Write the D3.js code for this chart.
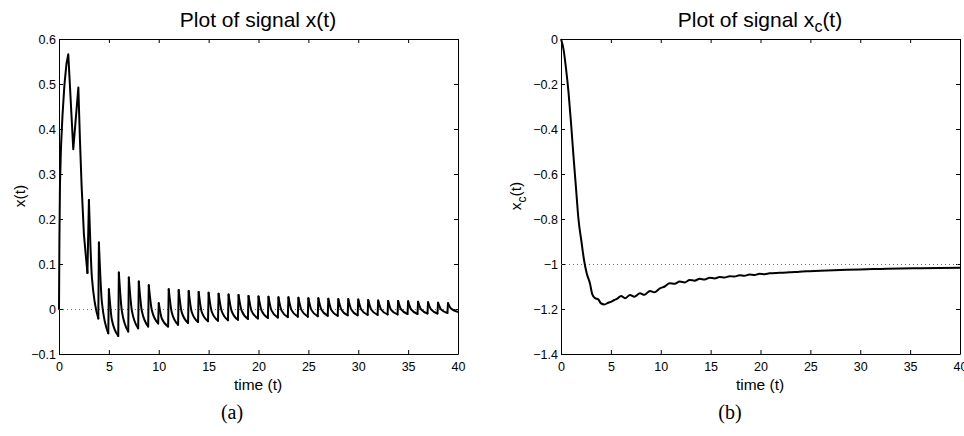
<!DOCTYPE html>
<html>
<head>
<meta charset="utf-8">
<script src="https://cdn.jsdelivr.net/npm/d3@7"></script>
<style>
  body { margin: 0; background: #fff; }
  text { font-family: "Liberation Sans", Arial, Helvetica, sans-serif; fill: #000; }
  .tick line, .domain { stroke: #000; }
</style>
</head>
<body>
<svg id="chart" width="964" height="436"></svg>
<script>
"use strict";

// ---- data ----
const xTicks = [0, 5, 10, 15, 20, 25, 30, 35, 40]
const xTickLabels = ['0', '5', '10', '15', '20', '25', '30', '35', '40']

const yTicksA = [-0.1, 0, 0.1, 0.2, 0.3, 0.4, 0.5, 0.6]
const yTickLabelsA = ['\u22120.1', '0', '0.1', '0.2', '0.3', '0.4', '0.5', '0.6']
const yTicksB = [-1.4, -1.2, -1, -0.8, -0.6, -0.4, -0.2, 0]
const yTickLabelsB = ['\u22121.4', '\u22121.2', '\u22121', '\u22120.8', '\u22120.6', '\u22120.4', '\u22120.2', '0']

// x(t): start-up part, before the regular kicks
const earlyT = [0, 0.04, 0.1, 0.2, 0.35, 0.55, 0.75, 0.93, 1.43, 1.94, 2.1, 2.27, 2.5, 2.85]
const earlyX = [0, 0.15, 0.28, 0.36, 0.43, 0.5, 0.545, 0.566, 0.355, 0.492, 0.375, 0.272, 0.165, 0.08]

// x(t): one kick per unit of time, peak right after the kick, value a bit later, trough before the next one
const kickT = [3, 4, 5, 6, 7, 8, 9, 10, 11, 12, 13, 14, 15, 16, 17, 18, 19, 20, 21,
               22, 23, 24, 25, 26, 27, 28, 29, 30, 31, 32, 33, 34, 35, 36, 37, 38, 39]
const kickPeak = [0.242, 0.148, 0.044, 0.081, 0.070, 0.061, 0.053, 0.013, 0.044, 0.042,
                  0.040, 0.038, 0.036, 0.034, 0.032, 0.031, 0.029, 0.028, 0.027, 0.026,
                  0.026, 0.025, 0.024, 0.024, 0.023, 0.022, 0.022, 0.021, 0.020, 0.019,
                  0.018, 0.018, 0.017, 0.016, 0.015, 0.014, 0.013]
const kickMid = [0.070, 0.015, -0.024, -0.004, -0.003, -0.004, -0.002, -0.021, -0.007, -0.007,
                 -0.006, -0.006, -0.005, -0.004, -0.004, -0.003, -0.004, -0.003, -0.003, -0.003,
                 -0.002, -0.002, -0.002, -0.001, -0.002, -0.001, -0.001, -0.001, -0.001, -0.001,
                 -0.002, -0.001, -0.001, -0.001, -0.001, -0.001, 0.001]
const kickTrough = [-0.021, -0.054, -0.060, -0.050, -0.043, -0.039, -0.032, -0.039, -0.035, -0.031,
                    -0.029, -0.027, -0.026, -0.025, -0.024, -0.022, -0.021, -0.020, -0.019, -0.018,
                    -0.017, -0.017, -0.016, -0.015, -0.015, -0.014, -0.014, -0.013, -0.013, -0.012,
                    -0.012, -0.011, -0.011, -0.010, -0.010, -0.009, -0.006]

// x_c(t)
const xcT = [0, 0.25, 0.5, 0.75, 1, 1.25, 1.5, 1.75, 2.05, 2.3, 2.57, 2.9, 3.14, 3.41, 3.74, 3.98,
             4.34, 4.74, 5.08, 5.35, 5.68, 6.02, 6.42, 6.92, 7.35, 7.92, 8.35, 8.92, 9.35, 9.92,
             10.4, 10.9, 11.4, 11.9, 12.4, 12.9, 13.4, 13.9, 14.4, 14.9, 15.4, 15.9, 16.4, 16.9,
             17.4, 17.9, 18.4, 18.9, 19.4, 19.9, 20.4, 20.9, 21.9, 22.9, 23.9, 24.9, 26, 28, 30,
             32, 34, 36, 38, 40]
const xcV = [0, -0.045, -0.13, -0.235, -0.37, -0.52, -0.66, -0.80, -0.90, -0.98, -1.04, -1.086,
             -1.135, -1.152, -1.157, -1.174, -1.18, -1.172, -1.167, -1.16, -1.153, -1.142, -1.152,
             -1.138, -1.145, -1.13, -1.137, -1.12, -1.126, -1.108, -1.10, -1.086, -1.088, -1.078,
             -1.082, -1.071, -1.074, -1.066, -1.069, -1.061, -1.064, -1.058, -1.060, -1.054,
             -1.056, -1.050, -1.052, -1.047, -1.049, -1.043, -1.045, -1.041, -1.039, -1.037,
             -1.034, -1.032, -1.030, -1.027, -1.024, -1.022, -1.020, -1.019, -1.018, -1.017]

// ---- drawing ----
const svg = d3.select('#chart')

function panel(box, yDomain, yTicks, yLabels) {
   const w = box.right - box.left
   const h = box.bottom - box.top
   const x = d3.scaleLinear().domain([0, 40]).range([0, w])
   const y = d3.scaleLinear().domain(yDomain).range([h, 0])
   const g = svg.append('g').attr('transform', `translate(${box.left},${box.top})`)

   const styleAxis = sel => {
      sel.selectAll('text').style('font-size', '12.5px')
      sel.select('.domain').attr('stroke', '#000')
   }

   g.append('g')
      .attr('transform', `translate(0,${h})`)
      .call(d3.axisBottom(x).tickValues(xTicks).tickFormat((d, i) => xTickLabels[i])
         .tickSizeInner(-4).tickSizeOuter(0).tickPadding(8))
      .call(styleAxis)
   g.append('g')
      .call(d3.axisTop(x).tickValues(xTicks).tickFormat('')
         .tickSizeInner(-4).tickSizeOuter(0))
      .call(styleAxis)
   g.append('g')
      .call(d3.axisLeft(y).tickValues(yTicks).tickFormat((d, i) => yLabels[i])
         .tickSizeInner(-4).tickSizeOuter(0).tickPadding(3))
      .call(styleAxis)
   g.append('g')
      .attr('transform', `translate(${w},0)`)
      .call(d3.axisRight(y).tickValues(yTicks).tickFormat('')
         .tickSizeInner(-4).tickSizeOuter(0))
      .call(styleAxis)

   return { g, x, y, w, h }
}

function refLine(p, value) {
   p.g.append('line')
      .attr('x1', p.x(0)).attr('x2', p.x(40))
      .attr('y1', Math.round(p.y(value)) + 0.5).attr('y2', Math.round(p.y(value)) + 0.5)
      .attr('stroke', '#707070')
      .attr('stroke-width', 1)
      .attr('stroke-dasharray', '1,3')
}

// panel (a)
const A = panel({ left: 59, right: 458, top: 39, bottom: 354 }, [-0.1, 0.6], yTicksA, yTickLabelsA)
refLine(A, 0)

const lin = d3.line().x(d => A.x(d[0])).y(d => A.y(d[1]))
const mono = d3.line().x(d => A.x(d[0])).y(d => A.y(d[1])).curve(d3.curveMonotoneX)

const segments = [{ curve: lin, pts: earlyT.map((t, i) => [t, earlyX[i]]) }]
let prev = [earlyT[earlyT.length - 1], earlyX[earlyX.length - 1]]
kickT.forEach((k, i) => {
   segments.push({ curve: lin, pts: [prev, [k, kickPeak[i]]] })
   segments.push({ curve: mono, pts: [[k, kickPeak[i]], [k + 0.3, kickMid[i]], [k + 0.94, kickTrough[i]]] })
   prev = [k + 0.94, kickTrough[i]]
})

A.g.append('g')
   .selectAll('path')
   .data(segments)
   .join('path')
      .attr('d', s => s.curve(s.pts))
      .attr('fill', 'none')
      .attr('stroke', '#000')
      .attr('stroke-width', 2)
      .attr('stroke-linejoin', 'round')
      .attr('stroke-linecap', 'round')

// panel (b)
const B = panel({ left: 561, right: 960, top: 39, bottom: 354 }, [-1.4, 0], yTicksB, yTickLabelsB)
refLine(B, -1)

B.g.append('path')
   .datum(xcT.map((t, i) => [t, xcV[i]]))
   .attr('d', d3.line().x(d => B.x(d[0])).y(d => B.y(d[1])).curve(d3.curveMonotoneX))
   .attr('fill', 'none')
   .attr('stroke', '#000')
   .attr('stroke-width', 2)
   .attr('stroke-linejoin', 'round')

// titles and labels
svg.append('text')
   .attr('x', 258).attr('y', 27)
   .attr('text-anchor', 'middle')
   .style('font-size', '21px')
   .text('Plot of signal x(t)')

const tB = svg.append('text')
   .attr('x', 760).attr('y', 27)
   .attr('text-anchor', 'middle')
   .style('font-size', '21px')
tB.append('tspan').text('Plot of signal x')
tB.append('tspan').attr('dy', 5).style('font-size', '16px').text('c')
tB.append('tspan').attr('dy', -5).text('(t)')

svg.append('text')
   .attr('x', 258).attr('y', 390)
   .attr('text-anchor', 'middle')
   .style('font-size', '15.5px')
   .text('time (t)')
svg.append('text')
   .attr('x', 760).attr('y', 390)
   .attr('text-anchor', 'middle')
   .style('font-size', '15.5px')
   .text('time (t)')

svg.append('text')
   .attr('transform', 'translate(25,196) rotate(-90)')
   .attr('text-anchor', 'middle')
   .style('font-size', '15.5px')
   .text('x(t)')

const yB = svg.append('text')
   .attr('transform', 'translate(521,196) rotate(-90)')
   .attr('text-anchor', 'middle')
   .style('font-size', '15.5px')
yB.append('tspan').text('x')
yB.append('tspan').attr('dy', 5).style('font-size', '12px').text('c')
yB.append('tspan').attr('dy', -5).text('(t)')

svg.append('text')
   .attr('x', 232).attr('y', 419)
   .attr('text-anchor', 'middle')
   .style('font-family', '"Liberation Serif", "Times New Roman", serif')
   .style('font-size', '20px')
   .text('(a)')
svg.append('text')
   .attr('x', 730).attr('y', 419)
   .attr('text-anchor', 'middle')
   .style('font-family', '"Liberation Serif", "Times New Roman", serif')
   .style('font-size', '20px')
   .text('(b)')
</script>
</body>
</html>
